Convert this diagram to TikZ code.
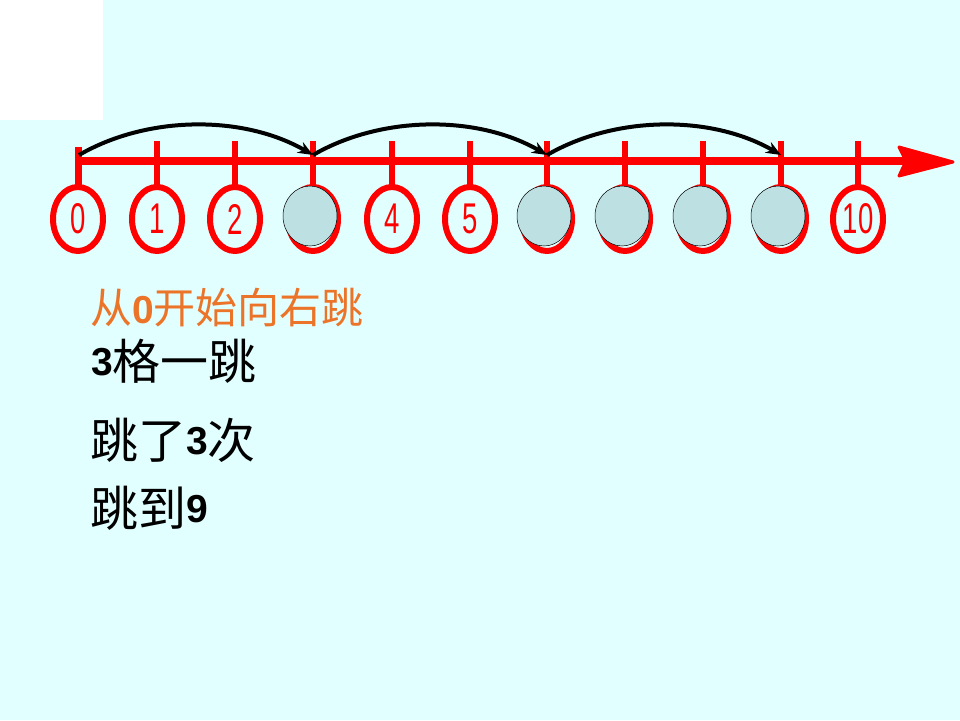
\documentclass[tikz,border=0pt]{standalone}
\usepackage{fontspec}
\setmainfont{Liberation Sans}
\newfontfamily\cjk{Noto Sans CJK SC}
\usetikzlibrary{shapes.geometric,arrows.meta}
\definecolor{bgcyan}{RGB}{226,255,255}
\definecolor{axisred}{RGB}{255,0,0}
\definecolor{hidefill}{RGB}{189,224,227}
\definecolor{orangetxt}{RGB}{235,116,40}
% bold digit inside a caption
\newcommand{\dig}[1]{{\fontsize{39}{40}\selectfont\bfseries #1}}
% ideographs set slightly below the Latin baseline
\newcommand{\han}[1]{\raisebox{-4pt}{\cjk #1}}
\begin{document}
\begin{tikzpicture}[x=1pt,y=-1pt,
  ticks/.style={draw=axisred,line width=6.5pt},
  numring/.style={ellipse,draw=axisred,line width=6pt,fill=bgcyan,
    minimum width=50pt,minimum height=64pt,inner sep=0pt,text=axisred,
    font=\fontsize{43}{43}\selectfont},
  hidden/.style={ellipse,draw=black,line width=0.5pt,fill=hidefill,
    minimum width=54pt,minimum height=60pt,inner sep=0pt},
  jump/.style={draw=black,line width=4pt,-{Stealth[length=15pt,width=12pt]}},
  caption/.style={anchor=base west,inner sep=0pt}]
% page background and white corner block
\fill[bgcyan] (0,0) rectangle (960,720);
\fill[white] (0,0) rectangle (103,120);
\useasboundingbox (0,0) rectangle (960,720);

% tick marks
\draw[ticks] (78.5,147) -- (78.5,190);
\foreach \i/\x in {1/157,2/235,3/313,4/392,5/470,6/547,7/625,8/703,9/781,10/858}
  \draw[ticks] (\x,141) -- (\x,190);

% axis with arrowhead
\draw[axisred,line width=8.5pt] (75,161) -- (905,161);
\fill[axisred,draw=axisred,line width=3pt,line join=round]
  (899,147) -- (953,162) -- (899,176) -- (906,161) -- cycle;

% numbered rings
\foreach \i/\x/\t in {0/78/0,1/157/1,2/235/2,3/313/{},4/392/4,5/470/5,6/547/{},7/625/{},8/703/{},9/781/{},10/858/10}
  \node[numring] (n\i) at (\x,219) {\scalebox{0.64}[1]{\t}};

% covered rings
\foreach \i/\x in {3/310,6/544,7/622,8/700,9/778}
  \node[hidden] (h\i) at (\x,216) {};

% jump landing points
\coordinate (j0) at (79,155);
\coordinate (j3) at (313,155);
\coordinate (j6) at (547,155);
\coordinate (j9) at (781,155);

% jumps of three
\draw[jump] (j0) .. controls (148,115) and (244,115) .. (j3);
\draw[jump] (j3) .. controls (382,115) and (478,115) .. (j6);
\draw[jump] (j6) .. controls (616,115) and (712,115) .. (j9);

% description
\node[caption,text=orangetxt] (l1) at (90,323)
  {\fontsize{42}{42}\selectfont{\cjk 从}\dig{0}{\cjk 开始向右跳}};
\node[caption] (l2) at (91,375)
  {\fontsize{48}{48}\selectfont\dig{3}\han{格一跳}};
\node[caption] (l3) at (90,454)
  {\fontsize{48}{48}\selectfont\han{跳了}\dig{3}\han{次}};
\node[caption] (l4) at (90,522)
  {\fontsize{48}{48}\selectfont\han{跳到}\dig{9}};
\end{tikzpicture}
\end{document}
